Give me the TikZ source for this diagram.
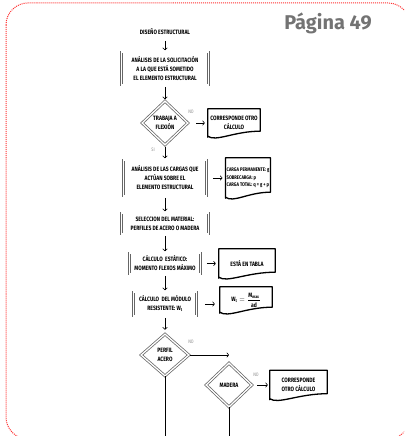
\documentclass[tikz,border=0pt]{standalone}
\usepackage{amsmath}
\usepackage{fontspec}
\usetikzlibrary{shapes.geometric,arrows.meta}
\newfontfamily\flowfont[FakeStretch=0.8]{Fira Sans}
\newfontfamily\pagefont{Fira Sans}
% outline of a document symbol round a node
\newcommand\docshape[1]{%
  \draw[docline] (#1.south west) -- (#1.north west) -- (#1.north east)
    -- ([yshift=6bp]#1.south east) .. controls ([yshift=6bp]#1.south)
    and ([xshift=8bp,yshift=-5bp]#1.south west) .. ([yshift=1bp]#1.south west)
    -- cycle;}

\begin{document}
\begin{tikzpicture}[x=1bp,y=-1bp,>={To[length=2.5bp,width=5bp]},
  flowbox/.style={draw=black!60,double=white,double distance=1.3bp,
    line width=0.75bp,align=center,inner sep=1bp,
    font=\flowfont\bfseries\fontsize{6.3}{9}\selectfont},
  decision/.style={flowbox,diamond,aspect=1,inner sep=0pt},
  docnode/.style={align=center,inner sep=1bp,
    font=\flowfont\bfseries\fontsize{6.3}{9}\selectfont},
  docline/.style={line width=1.3bp,line join=round},
  flowarrow/.style={->,semithick,shorten <=1.5bp,shorten >=1.5bp},
  sidearrow/.style={->,semithick,shorten <=6bp,shorten >=3bp},
  answer/.style={text=black!45,inner sep=0pt,
    font=\flowfont\fontsize{5}{5}\selectfont}]
  \path[use as bounding box,clip] (0,0) rectangle (404,436);
  \draw[red!80,densely dotted,line width=1bp,rounded corners=22bp]
    (6,3) rectangle (410,439);
  \node[text=black!55,font=\pagefont\bfseries\fontsize{20}{22}\selectfont]
    (pagina) at (328,23) {Página 49};

  \node[flowbox,minimum width=68bp,minimum height=15bp] (diseno) at (165,31.5)
    {DISEÑO ESTRUCTURAL};
  \node[flowbox,minimum width=87bp,minimum height=33bp] (solicitacion) at (165,68.5)
    {ANÁLISIS DE LA SOLICITACIÓN\\A LA QUE ESTÁ SOMETIDO\\EL ELEMENTO ESTRUCTURAL};
  \node[decision,minimum width=46bp,minimum height=44bp] (flexion) at (165,123)
    {TRABAJA A\\FLEXIÓN};
  \node[docnode,minimum width=52bp,minimum height=28bp] (otrocalc) at (234,123)
    {CORRESPONDE OTRO\\CÁLCULO};
  \node[flowbox,minimum width=83bp,minimum height=36bp] (cargas) at (165,178)
    {ANÁLISIS DE LAS CARGAS QUE\\ACTÚAN SOBRE EL\\ELEMENTO ESTRUCTURAL};
  \node[docnode,align=left,minimum width=44bp,minimum height=40bp,
    font=\flowfont\bfseries\fontsize{5.2}{7.5}\selectfont] (cargasdoc) at (248,178)
    {CARGA PERMANENTE: g\\SOBRECARGA: p\\CARGA TOTAL: q = g + p};
  \node[flowbox,minimum width=87bp,minimum height=21bp] (material) at (165,223.5)
    {SELECCION DEL MATERIAL:\\PERFILES DE ACERO O MADERA};
  \node[flowbox,minimum width=71bp,minimum height=21bp] (estatico) at (165,263.5)
    {CÁLCULO\ \ ESTÁTICO:\\MOMENTO FLEXOS MÁXIMO};
  \node[docnode,minimum width=56bp,minimum height=29bp] (tabla) at (247,263.5)
    {ESTÁ EN TABLA};
  \node[flowbox,minimum width=63bp,minimum height=24bp] (modulo) at (165,304)
    {CÁLCULO\ \ DEL MÓDULO\\RESISTENTE: W\textsubscript{t}};
  \node[docnode,minimum width=52bp,minimum height=26bp] (formula) at (246,300)
    {$\text{W}_{\text{t}}=\dfrac{\text{M}_{\text{max}}}{\text{ad}}$};
  \node[decision,minimum width=48bp,minimum height=42bp] (acero) at (165,355)
    {PERFIL\\ACERO};
  \node[decision,minimum width=46bp,minimum height=44bp] (madera) at (229,385)
    {MADERA};
  \node[docnode,minimum width=57bp,minimum height=29bp] (otrocalc2) at (298.5,385)
    {CORRESPONDE\\OTRO CÁLCULO};

  \docshape{otrocalc}
  \docshape{cargasdoc}
  \docshape{tabla}
  \docshape{formula}
  \docshape{otrocalc2}

  \node[answer] (flexno) at (191,112) {NO};
  \node[answer] (flexsi) at (153,150) {SI};
  \node[answer] (acerono) at (191,342) {NO};
  \node[answer] (maderano) at (256,375) {NO};

  \draw[flowarrow] (diseno) -- (solicitacion);
  \draw[flowarrow] (solicitacion) -- (flexion);
  \draw[flowarrow] (flexion) -- (cargas);
  \draw[flowarrow] (cargas) -- (material);
  \draw[flowarrow] (material) -- (estatico);
  \draw[flowarrow] (estatico) -- (modulo);
  \draw[flowarrow,shorten >=4bp] (modulo) -- (acero);
  \draw[sidearrow,shorten <=8bp] (flexion) -- (otrocalc);
  \draw[sidearrow] (cargas) -- (cargasdoc);
  \draw[sidearrow] (estatico) -- (tabla);
  \draw[sidearrow,shorten <=8bp,shorten >=5bp] (modulo.east) -- (modulo.east -| formula.west);
  \draw[sidearrow,shorten <=5bp,shorten >=2bp] (madera) -- (otrocalc2);
  \coordinate (maderain) at (madera.north |- acero.east);
  \draw[->,semithick,shorten <=1bp] (acero.east) -- (maderain);
  \coordinate (aceroout) at (acero.south |- 0,440);
  \coordinate (maderaout) at (madera.south |- 0,440);
  \draw[semithick] (acero.south) -- (aceroout);
  \draw[semithick] (madera.south) -- (maderaout);
\end{tikzpicture}
\end{document}
